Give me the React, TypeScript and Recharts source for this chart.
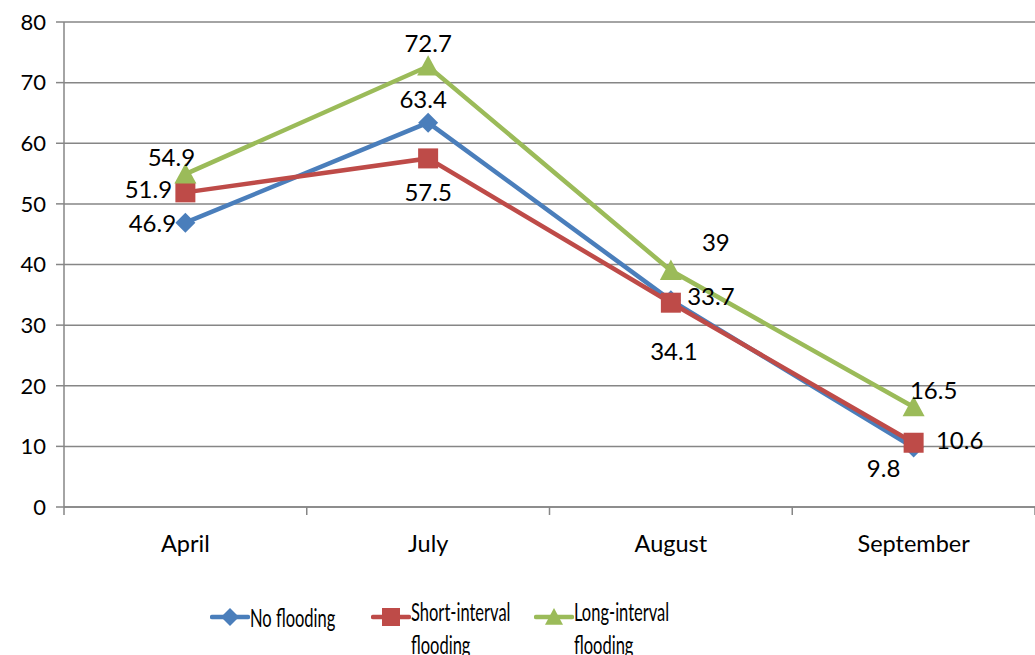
import { CartesianGrid, LabelList, Line, LineChart, XAxis, YAxis } from "recharts";

const MONTHS = ["April", "July", "August", "September"];
const NO_FLOODING = [46.9, 63.4, 34.1, 9.8];
const SHORT_INTERVAL = [51.9, 57.5, 33.7, 10.6];
const LONG_INTERVAL = [54.9, 72.7, 39, 16.5];
const Y_TICKS = [0, 10, 20, 30, 40, 50, 60, 70, 80];

const BLUE = "#4A7EBB";
const RED = "#BE4B48";
const GREEN = "#9BBB59";
const GRID = "#868686";
const FONT = "Lato, 'Open Sans', sans-serif";

const W = 1035;
const H = 655;
const Y_AXIS_W = 64;
const BAND = (W - Y_AXIS_W) / MONTHS.length;

// label offsets (text centre relative to the point), per series
const LABEL_OFFSETS: Record<string, [number, number][]> = {
  none: [[-33, 0], [-5, -24], [3, 50], [-30, 20]],
  short: [[-37, -4], [0, 33], [40, -7], [46, -3]],
  long: [[-14, -18], [0, -24], [45, -29], [20, -17]],
};

const data = MONTHS.map((m, i) => ({
  month: m,
  none: NO_FLOODING[i],
  short: SHORT_INTERVAL[i],
  long: LONG_INTERVAL[i],
}));

const Diamond = ({ cx, cy, fill, s = 10 }: any) =>
  cx == null ? null : (
    <polygon points={`${cx},${cy - s} ${cx + s},${cy} ${cx},${cy + s} ${cx - s},${cy}`} fill={fill} />
  );
const Square = ({ cx, cy, fill, s = 10 }: any) =>
  cx == null ? null : <rect x={cx - s} y={cy - s} width={2 * s} height={2 * s} fill={fill} />;
const Triangle = ({ cx, cy, fill, s = 11 }: any) =>
  cx == null ? null : (
    <polygon points={`${cx},${cy - s} ${cx + s},${cy + s * 0.85} ${cx - s},${cy + s * 0.85}`} fill={fill} />
  );

const makeLabel = (key: string) => (props: any) => {
  const { x, y, value, index } = props;
  const [dx, dy] = LABEL_OFFSETS[key][index] ?? [0, 0];
  return (
    <text
      x={x + dx}
      y={y + dy}
      textAnchor="middle"
      dominantBaseline="central"
      fontSize={24}
      fontFamily={FONT}
      fill="#000"
    >
      {value}
    </text>
  );
};

const XTick = ({ x, y, payload, index }: any) => {
  const axisY = y - 12;
  return (
    <g>
      <line x1={x - BAND / 2} y1={axisY} x2={x - BAND / 2} y2={axisY + 8} stroke={GRID} strokeWidth={1.5} />
      {index === MONTHS.length - 1 && (
        <line x1={x + BAND / 2} y1={axisY} x2={x + BAND / 2} y2={axisY + 8} stroke={GRID} strokeWidth={1.5} />
      )}
      <text x={x} y={y} dy={33} textAnchor="middle" fontSize={23.5} fontFamily={FONT} fill="#000">
        {payload.value}
      </text>
    </g>
  );
};

const LEGEND = [
  { name: ["No flooding"], color: BLUE, Marker: Diamond, x: 212, textY: 617 },
  { name: ["Short-interval", "flooding"], color: RED, Marker: Square, x: 373, textY: 611 },
  { name: ["Long-interval", "flooding"], color: GREEN, Marker: Triangle, x: 536, textY: 611 },
];

export default function App() {
  return (
    <div style={{ position: "fixed", left: 0, top: 0, width: W, height: H, background: "#fff", overflow: "hidden" }}>
      <LineChart width={W} height={H} data={data} margin={{ top: 22, right: 0, bottom: 0, left: 0 }}>
        <CartesianGrid vertical={false} stroke={GRID} strokeWidth={1.5} />
        <XAxis
          dataKey="month"
          height={148}
          padding={{ left: BAND / 2, right: BAND / 2 }}
          axisLine={{ stroke: GRID, strokeWidth: 1.5 }}
          tickLine={false}
          tickSize={8}
          tickMargin={4}
          tick={<XTick />}
          interval={0}
        />
        <YAxis
          width={Y_AXIS_W}
          domain={[0, 80]}
          ticks={Y_TICKS}
          axisLine={{ stroke: GRID, strokeWidth: 1.5 }}
          tickLine={{ stroke: GRID, strokeWidth: 1.5 }}
          tickSize={8}
          tickMargin={10}
          tick={{ fontSize: 22, fontFamily: FONT, fill: "#000" }}
          interval={0}
        />
        <Line dataKey="none" stroke={BLUE} strokeWidth={4.5} isAnimationActive={false} dot={<Diamond fill={BLUE} />} activeDot={false}>
          <LabelList dataKey="none" content={makeLabel("none")} />
        </Line>
        <Line dataKey="short" stroke={RED} strokeWidth={4.5} isAnimationActive={false} dot={<Square fill={RED} />} activeDot={false}>
          <LabelList dataKey="short" content={makeLabel("short")} />
        </Line>
        <Line dataKey="long" stroke={GREEN} strokeWidth={4.5} isAnimationActive={false} dot={<Triangle fill={GREEN} />} activeDot={false}>
          <LabelList dataKey="long" content={makeLabel("long")} />
        </Line>
      </LineChart>
      {LEGEND.map(({ name, color, Marker, x, textY }) => (
        <div key={name[0]}>
          <svg width={40} height={30} style={{ position: "absolute", left: x - 2, top: 602 }}>
            <line x1={2} y1={15} x2={38} y2={15} stroke={color} strokeWidth={4.5} strokeLinecap="round" />
            <Marker cx={20} cy={15} fill={color} s={9} />
          </svg>
          <div
            style={{
              position: "absolute",
              left: x + 38,
              top: textY - 16,
              fontFamily: FONT,
              fontSize: 25,
              lineHeight: "33px",
              color: "#000",
              whiteSpace: "nowrap",
              transform: "scaleX(0.66)",
              transformOrigin: "left top",
            }}
          >
            {name.map((n) => (
              <div key={n}>{n}</div>
            ))}
          </div>
        </div>
      ))}
    </div>
  );
}
